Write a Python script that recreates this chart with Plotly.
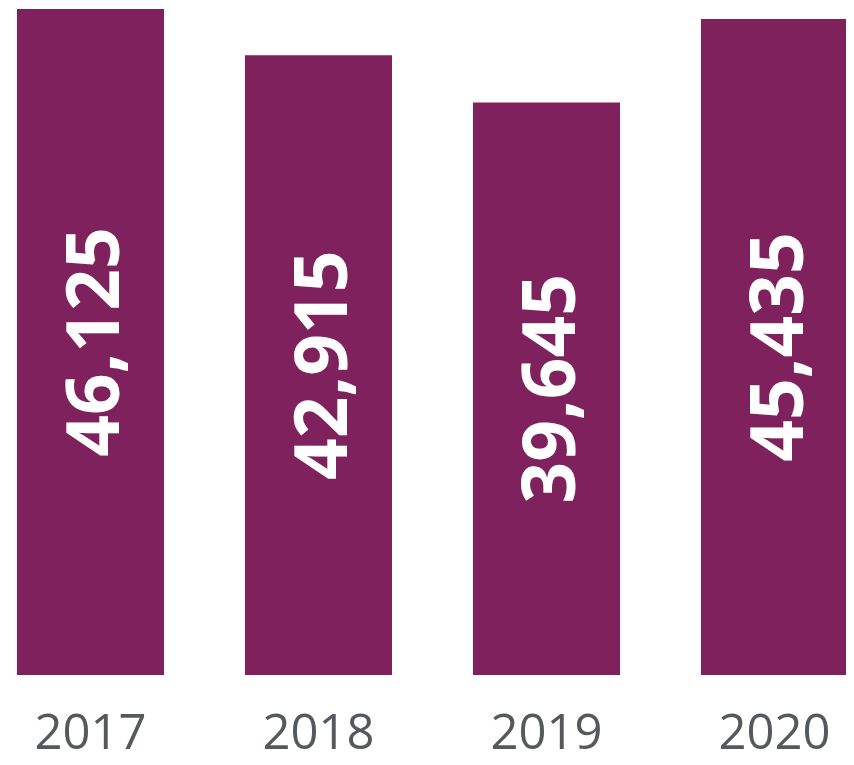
import plotly.graph_objects as go

# data
years = ["2017", "2018", "2019", "2020"]
values = [46125, 42915, 39645, 45435]

BAR_COLOR = "#7f215d"
LABEL_COLOR = "#55595e"

fig = go.Figure()

fig.add_trace(go.Bar(
    x=years,
    y=values,
    width=0.645,
    marker=dict(color=BAR_COLOR, line=dict(width=0)),
    text=[f"{v:,}" for v in values],
    textposition="inside",
    insidetextanchor="middle",
    textangle=-90,
    constraintext="none",
    textfont=dict(family="Open Sans", size=73, color="white", weight="bold"),
    hoverinfo="skip",
))

# page body adds an 8px offset, so the plot area is shifted up/left by that
fig.update_layout(
    width=854,
    height=765,
    margin=dict(l=0, r=0, t=0, b=98),
    plot_bgcolor="white",
    paper_bgcolor="white",
    showlegend=False,
    xaxis=dict(
        range=[-0.3618, 3.3838],
        showgrid=False,
        zeroline=False,
        showline=False,
        ticks="",
        tickfont=dict(family="Open Sans", size=49, color=LABEL_COLOR),
        ticklabelstandoff=24,
    ),
    yaxis=dict(
        range=[0, 46194],
        visible=False,
    ),
)

fig.write_html("out.html")
